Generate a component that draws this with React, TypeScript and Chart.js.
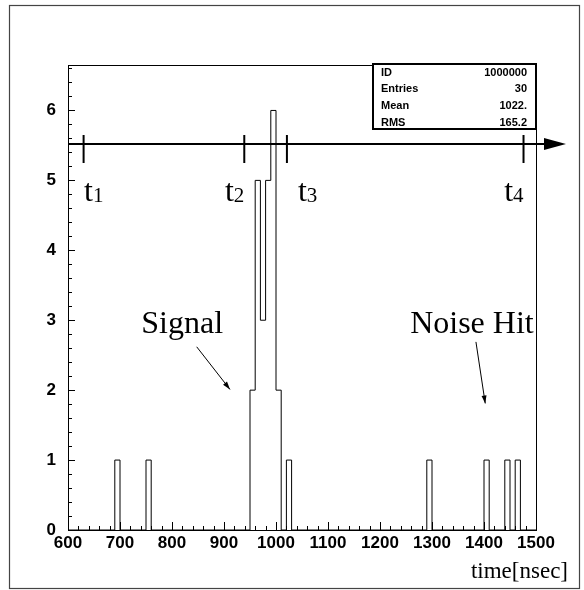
import { useEffect, useRef } from 'react';
import { Chart, registerables } from 'chart.js';

Chart.register(...registerables);

// ---- data ----
const binLeftEdges = [690, 750, 950, 960, 970, 980, 990, 1000, 1020, 1290, 1400, 1440, 1460];
const binCounts = [1, 1, 2, 5, 3, 5, 6, 2, 1, 1, 1, 1, 1];
const binWidth = 10;
const xRange = [600, 1500];
const yRange = [0, 6.65];

const statsLabels = ['ID', 'Entries', 'Mean', 'RMS'];
const statsValues = ['1000000', '30', '1022.', '165.2'];

const markerSubscripts = ['1', '2', '3', '4'];
const markerTimes = [630, 939, 1021, 1476];
const arrowLevel = 5.52;

const annotationTexts = ['Signal', 'Noise Hit'];
const axisTitle = 'time[nsec]';

function buildOutline() {
  const pts: { x: number; y: number }[] = [{ x: xRange[0], y: 0 }];
  binLeftEdges.forEach((left, i) => {
    pts.push({ x: left, y: binCounts[i] });
    const next = binLeftEdges[i + 1];
    if (next === undefined || next !== left + binWidth) {
      pts.push({ x: left + binWidth, y: 0 });
    }
  });
  pts.push({ x: xRange[1], y: 0 });
  return pts;
}

const SANS = '"Liberation Sans", Arial, sans-serif';
const SERIF = '"Liberation Serif", "Times New Roman", serif';

function arrowHead(ctx: CanvasRenderingContext2D, x0: number, y0: number, x1: number, y1: number, len: number, half: number) {
  const a = Math.atan2(y1 - y0, x1 - x0);
  const bx = x1 - len * Math.cos(a);
  const by = y1 - len * Math.sin(a);
  ctx.beginPath();
  ctx.moveTo(x1, y1);
  ctx.lineTo(bx + half * Math.sin(a), by - half * Math.cos(a));
  ctx.lineTo(bx - half * Math.sin(a), by + half * Math.cos(a));
  ctx.closePath();
  ctx.fill();
}

const decorPlugin = {
  id: 'rootDecor',
  afterDraw(chart: any) {
    const ctx: CanvasRenderingContext2D = chart.ctx;
    const { left, right, top, bottom } = chart.chartArea;
    const xs = chart.scales.x;
    const ys = chart.scales.y;
    ctx.save();
    ctx.strokeStyle = '#000';
    ctx.fillStyle = '#000';

    // plot frame
    ctx.lineWidth = 1;
    ctx.strokeRect(left + 0.5, top + 0.5, right - left, bottom - top);

    // x ticks (inside)
    ctx.beginPath();
    for (let v = xRange[0]; v <= xRange[1]; v += 20) {
      const px = Math.round(xs.getPixelForValue(v)) + 0.5;
      const len = v % 100 === 0 ? 8 : 4;
      ctx.moveTo(px, bottom);
      ctx.lineTo(px, bottom - len);
    }
    // y ticks (inside)
    for (let k = 0; k * 0.2 <= yRange[1] + 1e-9; k++) {
      const py = Math.round(ys.getPixelForValue(k * 0.2)) + 0.5;
      const len = k % 5 === 0 ? 7 : 4;
      ctx.moveTo(left, py);
      ctx.lineTo(left + len, py);
    }
    ctx.stroke();

    // time arrow
    const ay = ys.getPixelForValue(arrowLevel);
    ctx.lineWidth = 2;
    ctx.beginPath();
    ctx.moveTo(left, ay);
    ctx.lineTo(right + 10, ay);
    ctx.stroke();
    ctx.beginPath();
    ctx.moveTo(right + 30, ay);
    ctx.lineTo(right + 8, ay - 6);
    ctx.lineTo(right + 8, ay + 6);
    ctx.closePath();
    ctx.fill();

    // markers
    markerTimes.forEach((t, i) => {
      const px = xs.getPixelForValue(t);
      ctx.beginPath();
      ctx.moveTo(px, ay - 9);
      ctx.lineTo(px, ay + 19);
      ctx.stroke();
      // label t_i
      ctx.textBaseline = 'alphabetic';
      ctx.textAlign = 'left';
      ctx.font = `32px ${SERIF}`;
      const wt = ctx.measureText('t').width;
      ctx.font = `21px ${SERIF}`;
      const ws = ctx.measureText(markerSubscripts[i]).width;
      let lx: number;
      if (i === 0) lx = px + 0.5;
      else if (i === 2) lx = px + 11;
      else lx = px - wt - ws;
      const by = ys.getPixelForValue(4.71);
      ctx.font = `32px ${SERIF}`;
      ctx.fillText('t', lx, by);
      ctx.font = `21px ${SERIF}`;
      ctx.fillText(markerSubscripts[i], lx + wt, by + 1);
    });

    // annotations
    ctx.lineWidth = 1;
    ctx.font = `32px ${SERIF}`;
    ctx.textAlign = 'left';
    ctx.textBaseline = 'alphabetic';
    ctx.fillText(annotationTexts[0], xs.getPixelForValue(741), ys.getPixelForValue(2.82));
    ctx.fillText(annotationTexts[1], xs.getPixelForValue(1258), ys.getPixelForValue(2.82));
    const arrows = [
      [847.5, 2.62, 911.5, 2.01],
      [1384.5, 2.69, 1402.4, 1.81],
    ];
    arrows.forEach(([a, b, c, d]) => {
      const x0 = xs.getPixelForValue(a), y0 = ys.getPixelForValue(b);
      const x1 = xs.getPixelForValue(c), y1 = ys.getPixelForValue(d);
      ctx.beginPath();
      ctx.moveTo(x0, y0);
      ctx.lineTo(x1, y1);
      ctx.stroke();
      arrowHead(ctx, x0, y0, x1, y1, 8, 2.5);
    });

    // stats box
    const bx0 = right - 163;
    const by0 = top - 1;
    const bw = 163;
    const bh = 65;
    ctx.fillStyle = '#fff';
    ctx.fillRect(bx0, by0, bw, bh);
    ctx.fillStyle = '#000';
    ctx.lineWidth = 2;
    ctx.strokeRect(bx0, by0, bw, bh);
    ctx.font = `bold 11px ${SANS}`;
    ctx.textBaseline = 'middle';
    statsLabels.forEach((lab, i) => {
      const cy = by0 + 8.5 + i * 16.8;
      ctx.textAlign = 'left';
      ctx.fillText(lab, bx0 + 8, cy);
      ctx.textAlign = 'right';
      ctx.fillText(statsValues[i], bx0 + bw - 9, cy);
    });

    // axis title
    ctx.font = `23px ${SERIF}`;
    ctx.textAlign = 'right';
    ctx.textBaseline = 'alphabetic';
    ctx.fillText(axisTitle, 568, 578);

    // outer frame
    ctx.strokeStyle = '#444';
    ctx.lineWidth = 1.2;
    ctx.strokeRect(9.5, 5.5, 570, 583);
    ctx.restore();
  },
};

export default function App() {
  const ref = useRef<HTMLCanvasElement | null>(null);
  useEffect(() => {
    if (!ref.current) return;
    const chart = new Chart(ref.current, {
      type: 'line',
      data: {
        datasets: [
          {
            data: buildOutline(),
            stepped: 'before',
            borderColor: '#000',
            borderWidth: 1,
            pointRadius: 0,
            fill: false,
            tension: 0,
          } as any,
        ],
      },
      options: {
        animation: false,
        responsive: false,
        devicePixelRatio: 1,
        layout: { padding: { top: 65, right: 48, bottom: 0, left: 0 } },
        plugins: {
          legend: { display: false },
          tooltip: { enabled: false },
          title: { display: false },
        },
        scales: {
          x: {
            type: 'linear',
            min: xRange[0],
            max: xRange[1],
            grid: { display: false, drawTicks: false },
            border: { display: false },
            ticks: {
              stepSize: 100,
              padding: 3,
              color: '#000',
              maxRotation: 0,
              autoSkip: false,
              font: { family: SANS, weight: 'bold', size: 17 },
              callback: (v: any) => String(v),
            },
            afterFit: (s: any) => {
              s.height = 60;
            },
          },
          y: {
            type: 'linear',
            min: yRange[0],
            max: yRange[1],
            grid: { display: false, drawTicks: false },
            border: { display: false },
            ticks: {
              stepSize: 1,
              padding: 12,
              color: '#000',
              font: { family: SANS, weight: 'bold', size: 17 },
              callback: (v: any) => String(v),
            },
            afterBuildTicks: (s: any) => {
              s.ticks = s.ticks.filter((t: any) => Number.isInteger(t.value));
            },
            afterFit: (s: any) => {
              s.width = 68;
            },
          },
        },
      } as any,
      plugins: [decorPlugin],
    });
    return () => chart.destroy();
  }, []);
  return (
    <div style={{ position: 'absolute', left: 0, top: 0, width: 584, height: 590, background: '#fff' }}>
      <canvas ref={ref} width={584} height={590} style={{ display: 'block', width: 584, height: 590 }} />
    </div>
  );
}
